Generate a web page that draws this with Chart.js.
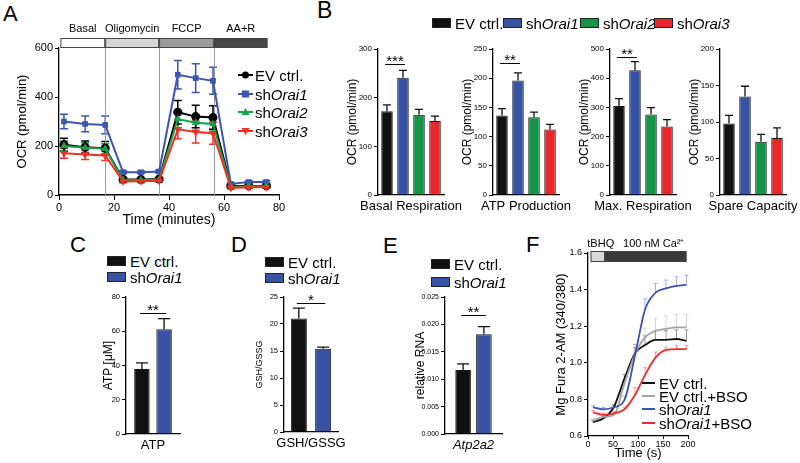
<!DOCTYPE html>
<html lang="en">
<head>
<meta charset="UTF-8">
<title>Orai knockdown - mitochondrial respiration</title>
<script src="https://cdn.jsdelivr.net/npm/chart.js"></script>
<style>
    body { margin: 0; background: #fff; font-family: "Liberation Sans", Arial, sans-serif; }
    #fig { position: relative; width: 800px; height: 463px; overflow: hidden; }
    canvas { position: absolute; }
    .letter { position: absolute; font-size: 22px; line-height: 1; color: #000; }
    .lg { position: absolute; display: flex; align-items: center; height: 16px; font-size: 15px; color: #000; white-space: nowrap; }
    .box { display: inline-block; width: 19px; height: 10px; border: 1px solid #222; box-sizing: border-box; margin-right: 4px; }
    .ln { display: inline-block; width: 13px; height: 2px; margin-right: 4px; }
    .lg svg { margin-right: 2px; }
</style>
</head>
<body>
<div id="fig">
    <div class="letter" style="left:3px;top:3px">A</div>
    <div class="letter" style="left:317px;top:-1px;font-size:23px">B</div>
    <div class="letter" style="left:70px;top:234px">C</div>
    <div class="letter" style="left:231px;top:234px">D</div>
    <div class="letter" style="left:383px;top:235px">E</div>
    <div class="letter" style="left:526px;top:234px">F</div>

    <canvas id="chartA" width="290" height="232" style="left:0;top:0"></canvas>
    <canvas id="chartB1" width="133" height="190" style="left:333px;top:30px"></canvas>
    <canvas id="chartB2" width="133" height="190" style="left:448px;top:30px"></canvas>
    <canvas id="chartB3" width="133" height="190" style="left:565px;top:30px"></canvas>
    <canvas id="chartB4" width="133" height="190" style="left:675px;top:30px"></canvas>
    <canvas id="chartC" width="120" height="178" style="left:70px;top:285px"></canvas>
    <canvas id="chartD" width="110" height="178" style="left:240px;top:285px"></canvas>
    <canvas id="chartE" width="110" height="178" style="left:400px;top:285px"></canvas>
    <canvas id="chartF" width="180" height="231" style="left:520px;top:232px"></canvas>

    <!-- legend A -->
    <div class="lg" style="left:238px;top:67px"><svg width="15" height="10"><line x1="0" y1="5" x2="15" y2="5" stroke="#000" stroke-width="2"/><circle cx="7.5" cy="5" r="3.5" fill="#000"/></svg>EV ctrl.</div>
    <div class="lg" style="left:238px;top:86px"><svg width="15" height="10"><line x1="0" y1="5" x2="15" y2="5" stroke="#3b55b0" stroke-width="2"/><rect x="4" y="1.5" width="7" height="7" fill="#3b55b0"/></svg>sh<i>Orai1</i></div>
    <div class="lg" style="left:238px;top:104px"><svg width="15" height="10"><line x1="0" y1="5" x2="15" y2="5" stroke="#17a14a" stroke-width="2"/><polygon points="7.5,1 11.5,8 3.5,8" fill="#17a14a"/></svg>sh<i>Orai2</i></div>
    <div class="lg" style="left:238px;top:123px"><svg width="15" height="10"><line x1="0" y1="5" x2="15" y2="5" stroke="#ee3124" stroke-width="2"/><polygon points="3.5,2 11.5,2 7.5,9" fill="#ee3124"/></svg>sh<i>Orai3</i></div>

    <!-- legend B -->
    <div class="lg" style="left:432px;top:15px"><span class="box" style="background:#111"></span>EV ctrl.</div>
    <div class="lg" style="left:503px;top:15px"><span class="box" style="background:#3953a4"></span>sh<i>Orai1</i></div>
    <div class="lg" style="left:580px;top:15px"><span class="box" style="background:#139447"></span>sh<i>Orai2</i></div>
    <div class="lg" style="left:654px;top:15px"><span class="box" style="background:#e8262b"></span>sh<i>Orai3</i></div>

    <!-- legends C, D, E -->
    <div class="lg" style="left:107px;top:253px"><span class="box" style="background:#111"></span>EV ctrl.</div>
    <div class="lg" style="left:107px;top:269px"><span class="box" style="background:#3953a4"></span>sh<i>Orai1</i></div>
    <div class="lg" style="left:265px;top:254px"><span class="box" style="background:#111"></span>EV ctrl.</div>
    <div class="lg" style="left:265px;top:270px"><span class="box" style="background:#3953a4"></span>sh<i>Orai1</i></div>
    <div class="lg" style="left:431px;top:256px"><span class="box" style="background:#111"></span>EV ctrl.</div>
    <div class="lg" style="left:431px;top:274px"><span class="box" style="background:#3953a4"></span>sh<i>Orai1</i></div>

    <!-- legend F -->
    <div class="lg" style="left:642px;top:375px"><span class="ln" style="background:#111"></span>EV ctrl.</div>
    <div class="lg" style="left:642px;top:388px"><span class="ln" style="background:#a3a3a3"></span>EV ctrl.+BSO</div>
    <div class="lg" style="left:642px;top:401px"><span class="ln" style="background:#3c52b0"></span>sh<i>Orai1</i></div>
    <div class="lg" style="left:642px;top:415px"><span class="ln" style="background:#ee2b2b"></span>sh<i>Orai1</i>+BSO</div>
</div>

<script>
    // ---- Panel A: OCR time course ----
    const ocrTime = [1.8, 9.5, 16.8, 23.3, 29.8, 36.4, 43.2, 49.7, 56.0, 62.5, 69.0, 75.4];
    const ocrEV = [205, 195, 191, 64, 63, 65, 338, 320, 316, 37, 37, 37];
    const ocrEVErr = [27, 25, 27, 6, 5, 5, 48, 46, 48, 5, 5, 5];
    const ocrOrai1 = [300, 290, 286, 93, 93, 96, 491, 477, 466, 45, 53, 53];
    const ocrOrai1Err = [30, 32, 36, 6, 5, 6, 58, 59, 55, 5, 5, 5];
    const ocrOrai2 = [200, 193, 189, 61, 61, 63, 310, 295, 290, 33, 36, 36];
    const ocrOrai2Err = [20, 20, 20, 5, 5, 5, 35, 32, 30, 5, 4, 4];
    const ocrOrai3 = [170, 165, 161, 55, 56, 58, 268, 257, 252, 29, 32, 32];
    const ocrOrai3Err = [20, 20, 20, 5, 5, 5, 38, 45, 45, 4, 4, 4];
    const phaseEdges = [0.5, 16.8, 36.4, 56.4, 75.8];
    const phaseNames = ['Basal', 'Oligomycin', 'FCCP', 'AA+R'];

    // ---- Panel B: OCR parameters (EV, shOrai1, shOrai2, shOrai3) ----
    const groupNames = ['EV ctrl.', 'shOrai1', 'shOrai2', 'shOrai3'];
    const basalResp = [172, 241, 165, 152];
    const basalRespErr = [13, 15, 11, 10];
    const atpProd = [136, 196, 133, 112];
    const atpProdErr = [12, 13, 9, 9];
    const maxResp = [305, 427, 276, 235];
    const maxRespErr = [25, 30, 23, 23];
    const spareCap = [98, 135, 73, 78];
    const spareCapErr = [11, 14, 10, 14];

    // ---- Panels C, D, E (EV, shOrai1) ----
    const atpConc = [38, 61.2];
    const atpConcErr = [3.5, 6.2];
    const gshRatio = [21, 15.4];
    const gshRatioErr = [1.95, 0.3];
    const atp2a2Rna = [0.0117, 0.0182];
    const atp2a2RnaErr = [0.0011, 0.0014];

    // ---- Panel F: Mg Fura 2-AM ratio ----
    const fTime = [10, 31, 52, 73, 94, 114, 135, 156, 177, 197];
    const fEV = [0.675, 0.697, 0.76, 0.915, 1.052, 1.097, 1.125, 1.125, 1.13, 1.12];
    const fEVErr = [0.01, 0.01, 0.01, 0.02, 0.03, 0.05, 0.05, 0.05, 0.05, 0.06];
    const fEVBSO = [0.684, 0.705, 0.715, 0.888, 1.046, 1.139, 1.174, 1.185, 1.194, 1.194];
    const fEVBSOErr = [0.01, 0.01, 0.01, 0.02, 0.04, 0.05, 0.07, 0.07, 0.07, 0.07];
    const fOrai1 = [0.757, 0.746, 0.757, 0.797, 1.04, 1.29, 1.383, 1.407, 1.42, 1.427];
    const fOrai1Err = [0.01, 0.01, 0.01, 0.02, 0.06, 0.06, 0.05, 0.045, 0.05, 0.05];
    const fOrai1BSO = [0.729, 0.715, 0.724, 0.746, 0.824, 0.933, 1.028, 1.07, 1.075, 1.075];
    const fOrai1BSOErr = [0.01, 0.01, 0.01, 0.01, 0.04, 0.04, 0.03, 0.015, 0.02, 0.02];
    const fPhaseEdges = [5, 34, 197];
    const fPhaseNames = ['tBHQ', '100 nM Ca\u00b2\u207a'];

    const FONT = '"Liberation Sans", Arial, sans-serif';
    Chart.defaults.font.family = FONT;
    Chart.defaults.color = '#000';
    Chart.defaults.animation = false;
    Chart.defaults.responsive = false;
    Chart.defaults.plugins.legend.display = false;
    Chart.defaults.plugins.tooltip.enabled = false;

    const barColors = ['#111111', '#3953a4', '#139447', '#e8262b'];

    // fixed axis sizes so the plot areas line up with the figure
    function fixedFit(size) {
        return s => {
            if (s.isHorizontal()) s.height = size; else s.width = size;
            s.paddingLeft = s.paddingRight = s.paddingTop = s.paddingBottom = 0;
        };
    }

    // error bars (dataset.errors), drawn under the marks
    const errorBars = {
        id: 'errorBars',
        beforeDatasetsDraw(chart) {
            const ctx = chart.ctx, y = chart.scales.y;
            chart.data.datasets.forEach((ds, di) => {
                if (!ds.errors) return;
                const meta = chart.getDatasetMeta(di);
                ctx.save();
                ctx.strokeStyle = ds.errorColor || ds.borderColor;
                ctx.lineWidth = ds.errorWidth || 1.2;
                meta.data.forEach((el, i) => {
                    const raw = ds.data[i];
                    const v = typeof raw === 'object' ? raw.y : raw;
                    const e = ds.errors[i];
                    const top = y.getPixelForValue(v + e);
                    const bot = ds.errorBoth ? y.getPixelForValue(v - e) : el.y;
                    const cap = ds.capWidth == null ? 4 : ds.capWidth;
                    ctx.beginPath();
                    ctx.moveTo(el.x, bot); ctx.lineTo(el.x, top);
                    ctx.moveTo(el.x - cap, top); ctx.lineTo(el.x + cap, top);
                    if (ds.errorBoth) { ctx.moveTo(el.x - cap, bot); ctx.lineTo(el.x + cap, bot); }
                    ctx.stroke();
                });
                ctx.restore();
            });
        }
    };

    // significance bracket between dataset 0 and 1
    const sigBracket = {
        id: 'sig',
        afterDatasetsDraw(chart, args, o) {
            if (!o || !o.text) return;
            const ctx = chart.ctx;
            const x1 = chart.getDatasetMeta(0).data[0].x - 2;
            const x2 = chart.getDatasetMeta(1).data[0].x + 2;
            const y = Math.round(chart.scales.y.getPixelForValue(o.value)) + 0.5;
            ctx.save();
            ctx.strokeStyle = '#000';
            ctx.lineWidth = 1;
            ctx.beginPath(); ctx.moveTo(x1, y); ctx.lineTo(x2, y); ctx.stroke();
            ctx.fillStyle = '#000';
            ctx.font = '15px ' + FONT;
            ctx.textAlign = 'center';
            ctx.textBaseline = 'alphabetic';
            ctx.fillText(o.text, (x1 + x2) / 2, y + 1);
            ctx.restore();
        }
    };

    // treatment bar above the plot + optional boundary lines
    const phaseBar = {
        id: 'phaseBar',
        beforeDatasetsDraw(chart, args, o) {
            if (!o || !o.lines) return;
            const ctx = chart.ctx, x = chart.scales.x, a = chart.chartArea;
            ctx.save();
            ctx.strokeStyle = '#9a9a9a';
            ctx.lineWidth = 1;
            o.edges.slice(1, -1).forEach(v => {
                const px = Math.round(x.getPixelForValue(v)) + 0.5;
                ctx.beginPath(); ctx.moveTo(px, a.top); ctx.lineTo(px, a.bottom); ctx.stroke();
            });
            ctx.restore();
        },
        afterDraw(chart, args, o) {
            if (!o || !o.edges) return;
            const ctx = chart.ctx, x = chart.scales.x, a = chart.chartArea;
            const top = a.top + o.offset;
            ctx.save();
            ctx.font = o.fontSize + 'px ' + FONT;
            ctx.textAlign = 'center';
            ctx.textBaseline = 'middle';
            for (let i = 0; i < o.names.length; i++) {
                const x0 = x.getPixelForValue(o.edges[i]);
                const x1 = x.getPixelForValue(o.edges[i + 1]);
                ctx.fillStyle = o.fills[i];
                ctx.fillRect(x0, top, x1 - x0, o.height);
                ctx.strokeStyle = '#444';
                ctx.lineWidth = 1;
                ctx.strokeRect(x0 + 0.5, top + 0.5, x1 - x0 - 1, o.height - 1);
                ctx.fillStyle = '#000';
                ctx.fillText(o.names[i], (x0 + x1) / 2 + (o.labelDx ? o.labelDx[i] : 0), top + o.labelDy);
            }
            ctx.restore();
        }
    };

    function axisY(min, max, step, fontSize, title, titleSize, titlePad, width, fmt) {
        return {
            min: min, max: max,
            afterFit: fixedFit(width),
            ticks: { stepSize: step, font: { size: fontSize }, padding: 2, callback: fmt || (v => v) },
            grid: { drawOnChartArea: false, drawTicks: true, tickLength: 4, color: '#000', lineWidth: 1 },
            border: { display: true, color: '#000', width: 1.3 },
            title: { display: true, text: title, font: { size: titleSize }, padding: { top: titlePad, bottom: 0 } }
        };
    }

    function axisXCat(height, fontSize, italic) {
        return {
            afterFit: fixedFit(height),
            ticks: { font: { size: fontSize, style: italic ? 'italic' : 'normal' }, padding: 4 },
            grid: { display: false, drawTicks: false },
            border: { display: true, color: '#000', width: 1.3 }
        };
    }

    // ---- A ----
    function pts(xs, ys) { return xs.map((t, i) => ({ x: t, y: ys[i] })); }
    function ocrSeries(label, ys, errs, color, style, rot) {
        return {
            label: label, data: pts(ocrTime, ys), errors: errs, errorBoth: true, capWidth: 4,
            borderColor: color, backgroundColor: color, errorColor: color, errorWidth: 1.5,
            borderWidth: 2, pointStyle: style, pointRotation: rot || 0,
            pointRadius: style === 'rect' ? 4 : 4.5, pointBorderWidth: 0, tension: 0
        };
    }
    new Chart(document.getElementById('chartA'), {
        type: 'line',
        data: {
            datasets: [
                ocrSeries('shOrai3', ocrOrai3, ocrOrai3Err, '#ee3124', 'triangle', 180),
                ocrSeries('shOrai2', ocrOrai2, ocrOrai2Err, '#17a14a', 'triangle'),
                ocrSeries('shOrai1', ocrOrai1, ocrOrai1Err, '#3b55b0', 'rect'),
                ocrSeries('EV ctrl.', ocrEV, ocrEVErr, '#000000', 'circle')
            ]
        },
        options: {
            layout: { padding: { left: 0, top: 48, right: 11, bottom: 0 } },
            scales: {
                x: {
                    type: 'linear', min: 0, max: 80,
                    afterFit: fixedFit(37),
                    ticks: { stepSize: 20, font: { size: 11 }, padding: 1 },
                    grid: { drawOnChartArea: false, tickLength: 5, color: '#000' },
                    border: { display: true, color: '#000', width: 1.5 },
                    title: { display: true, text: 'Time (minutes)', font: { size: 14 }, padding: { top: 0, bottom: 3 } }
                },
                y: axisY(0, 600, 200, 11, 'OCR (pmol/min)', 13, 15, 59)
            },
            plugins: {
                phaseBar: {
                    edges: phaseEdges, names: phaseNames, lines: true,
                    fills: ['#ffffff', '#d6d6d6', '#9b9b9b', '#474747'],
                    offset: -10, height: 10, labelDy: -9, fontSize: 11
                }
            }
        },
        plugins: [errorBars, phaseBar]
    });

    // ---- bar charts ----
    function barChart(id, o) {
        return new Chart(document.getElementById(id), {
            type: 'bar',
            data: {
                labels: [o.label],
                datasets: o.values.map((v, k) => ({
                    label: o.names[k], data: [v], errors: [o.errs[k]],
                    backgroundColor: barColors[k], borderColor: '#1a1a1a', borderWidth: 1,
                    errorColor: '#111', errorWidth: 1.3, capWidth: o.cap,
                    categoryPercentage: o.cat, barPercentage: o.bar
                }))
            },
            options: {
                layout: { padding: o.pad },
                scales: {
                    x: axisXCat(o.xh, 13, o.italic),
                    y: axisY(o.min, o.max, o.step, o.tickSize, o.title, o.titleSize, o.titlePad, o.yw, o.fmt)
                },
                plugins: { sig: o.sig || false }
            },
            plugins: [errorBars, sigBracket]
        });
    }

    const bCommon = { names: groupNames, cat: 0.97, bar: 0.72, cap: 4, min: 0, tickSize: 8,
                      title: 'OCR (pmol/min)', titleSize: 12, titlePad: 12, yw: 45, xh: 25,
                      pad: { left: 0, top: 19, right: 22, bottom: 0 } };
    barChart('chartB1', Object.assign({}, bCommon, { label: 'Basal Respiration', values: basalResp, errs: basalRespErr,
        max: 300, step: 100, sig: { value: 269, text: '***' } }));
    barChart('chartB2', Object.assign({}, bCommon, { label: 'ATP Production', values: atpProd, errs: atpProdErr,
        max: 250, step: 50, sig: { value: 226, text: '**' } }));
    barChart('chartB3', Object.assign({}, bCommon, { label: 'Max. Respiration', values: maxResp, errs: maxRespErr,
        max: 500, step: 100, sig: { value: 474, text: '**' } }));
    barChart('chartB4', Object.assign({}, bCommon, { label: 'Spare Capacity', values: spareCap, errs: spareCapErr,
        max: 200, step: 50 }));

    barChart('chartC', { label: 'ATP', names: ['EV ctrl.', 'shOrai1'], values: atpConc, errs: atpConcErr,
        cat: 0.82, bar: 0.7, cap: 6, min: 0, max: 80, step: 20, tickSize: 7.5,
        title: 'ATP [\u03bcM]', titleSize: 12, titlePad: 31, yw: 56, xh: 29,
        pad: { left: 0, top: 12, right: 10, bottom: 0 }, sig: { value: 70.5, text: '**' } });

    barChart('chartD', { label: 'GSH/GSSG', names: ['EV ctrl.', 'shOrai1'], values: gshRatio, errs: gshRatioErr,
        cat: 0.9, bar: 0.66, cap: 6, min: 0, max: 25, step: 5, tickSize: 7.5,
        title: 'GSH/GSSG', titleSize: 9, titlePad: 14, yw: 44, xh: 31,
        pad: { left: 0, top: 12, right: 12, bottom: 0 }, sig: { value: 23.9, text: '*' } });

    barChart('chartE', { label: 'Atp2a2', italic: true, names: ['EV ctrl.', 'shOrai1'], values: atp2a2Rna, errs: atp2a2RnaErr,
        cat: 0.73, bar: 0.75, cap: 6, min: 0, max: 0.025, step: 0.005, tickSize: 7,
        title: 'relative RNA', titleSize: 12, titlePad: 13, yw: 45, xh: 29, fmt: v => v.toFixed(3),
        pad: { left: 0, top: 12, right: 8, bottom: 0 }, sig: { value: 0.0217, text: '**' } });

    // ---- F ----
    function fSeries(label, ys, errs, color, errColor) {
        return {
            label: label, data: pts(fTime, ys), errors: errs, capWidth: 2,
            borderColor: color, errorColor: errColor, errorWidth: 1,
            borderWidth: 1.8, pointRadius: 0, cubicInterpolationMode: 'monotone'
        };
    }
    new Chart(document.getElementById('chartF'), {
        type: 'line',
        data: {
            datasets: [
                fSeries('shOrai1+BSO', fOrai1BSO, fOrai1BSOErr, '#ee2b2b', '#f4a0a0'),
                fSeries('shOrai1', fOrai1, fOrai1Err, '#3c52b0', '#a9b3de'),
                fSeries('EV ctrl.+BSO', fEVBSO, fEVBSOErr, '#a3a3a3', '#d6d6d6'),
                fSeries('EV ctrl.', fEV, fEVErr, '#111111', '#9a9a9a')
            ]
        },
        options: {
            layout: { padding: { left: 0, top: 21, right: 12, bottom: 0 } },
            scales: {
                x: {
                    type: 'linear', min: 0, max: 200,
                    afterFit: fixedFit(27),
                    ticks: { stepSize: 50, font: { size: 9 }, padding: 0 },
                    grid: { drawOnChartArea: false, tickLength: 3, color: '#000' },
                    border: { display: true, color: '#000', width: 1.3 },
                    title: { display: true, text: 'Time (s)', font: { size: 13 }, padding: { top: 0, bottom: 2 } }
                },
                y: axisY(0.6, 1.6, 0.2, 9, 'Mg Fura 2-AM (340/380)', 13, 34, 68, v => v.toFixed(1))
            },
            plugins: {
                phaseBar: {
                    edges: fPhaseEdges, names: fPhaseNames, lines: false,
                    fills: ['#d9d9d9', '#3a3a3a'],
                    offset: -2, height: 11, labelDy: -7, fontSize: 11, labelDx: [3, 8]
                }
            }
        },
        plugins: [errorBars, phaseBar]
    });
</script>
</body>
</html>
